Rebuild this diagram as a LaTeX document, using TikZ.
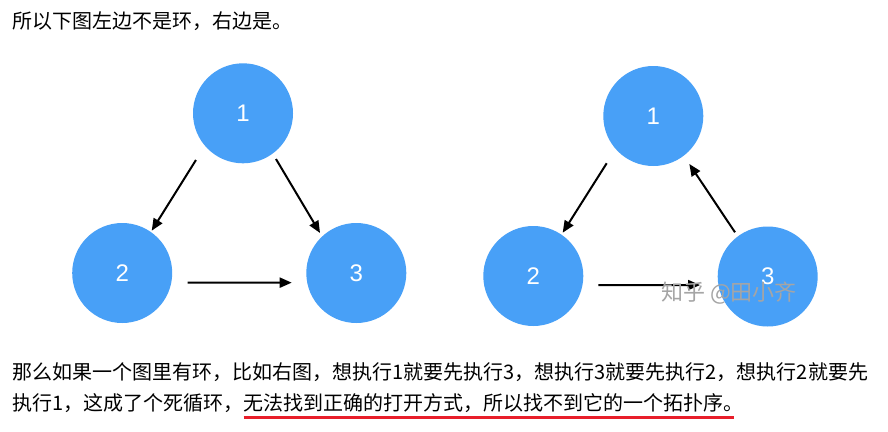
\documentclass[tikz,border=0pt]{standalone}
\usepackage{fontspec}
\newfontfamily\cjk{Noto Sans CJK SC}
\newfontfamily\numfont{Liberation Sans}
\usetikzlibrary{arrows.meta,calc}
\definecolor{nodeblue}{RGB}{72,160,247}
\definecolor{ulred}{RGB}{232,30,42}
\definecolor{wmgray}{RGB}{165,165,165}
\begin{document}
\begin{tikzpicture}[x=1pt,y=1pt,
  vert/.style={circle,fill=nodeblue,minimum size=100pt,inner sep=0pt,outer sep=0pt,
    text=white,font=\numfont\fontsize{24}{24}\selectfont},
  arr/.style={line width=2pt,-{Triangle[length=12pt,width=10pt]}},
  para/.style={anchor=base west,inner sep=0pt,outer sep=0pt,font=\cjk\fontsize{20}{20}\selectfont},
  wmtext/.style={inner sep=0pt,text=wmgray,font=\cjk\fontsize{22}{22}\selectfont},
  uline/.style={draw=ulred,line width=3pt}
]
\useasboundingbox (0,0) rectangle (888,-431);
\fill[white] (0,0) rectangle (888,-431);

% top sentence
\node[para] (t0) at (12.5,-28.6) {所以下图左边不是环，右边是。};

% left graph
\node[vert] (a1) at (243,-113.3) {1};
\node[vert] (a2) at (122.2,-273) {2};
\node[vert] (a3) at (356.3,-273) {3};
\draw[arr] ($(a1.center)+(224.8:66.3)$) -- ($(a2.center)+(55.1:51.6)$);
\draw[arr] ($(a1.center)+(305.8:56.4)$) -- ($(a3.center)+(132.2:54)$);
\draw[arr] ($(a2.center)+(-8.4:66.2)$) -- ($(a3.center)+(188.5:65.3)$);

% right graph
\node[vert] (b1) at (653.3,-116) {1};
\node[vert] (b2) at (533.3,-276) {2};
\node[vert] (b3) at (767.7,-276.5) {3};
\draw[arr] ($(b1.center)+(225.4:66.4)$) -- ($(b2.center)+(55.8:52.3)$);
\draw[arr] ($(b3.center)+(126.5:55)$) -- ($(b1.center)+(306.9:60)$);
\draw[arr] ($(b2.center)+(-7.9:65.6)$) -- ($(b3.center)+(187.2:68.2)$);

% watermark
\node[wmtext] (wm) at (729,-293) {知乎 @田小齐};

% bottom paragraph
\node[para] (p1) at (12.5,-379) {那么如果一个图里有环，比如右图，想执行1就要先执行3，想执行3就要先执行2，想执行2就要先};
\node[para] (p2a) at (12.5,-410) {执行1，这成了个死循环，};
\node[para] (p2b) at (p2a.base east) {无法找到正确的打开方式，所以找不到它的一个拓扑序。};
\draw[uline] ($(p2b.base west)+(0,-7.7)$) -- ($(p2b.base east)+(-10,-7.7)$);
\end{tikzpicture}
\end{document}
